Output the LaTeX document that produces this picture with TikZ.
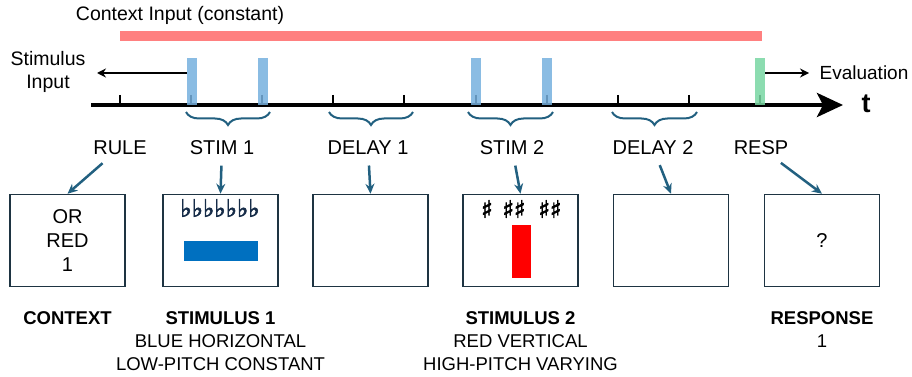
\documentclass[tikz,border=0pt]{standalone}
\usepackage{fontspec}
\setmainfont{Liberation Sans}
\newfontfamily\musicfont[FakeBold=2.5]{DejaVu Sans}
\usetikzlibrary{arrows.meta,positioning,decorations.pathreplacing}

\definecolor{ctxred}{RGB}{255,128,128}
\definecolor{stimblue}{RGB}{118,176,222}
\definecolor{evalgreen}{RGB}{120,214,162}
\definecolor{linkblue}{RGB}{34,96,128}
\definecolor{boxline}{RGB}{30,52,66}
\definecolor{flatnavy}{RGB}{22,44,72}
\definecolor{barblue}{RGB}{0,112,192}

\begin{document}
\begin{tikzpicture}[x=1pt,y=-1pt,semithick]
	\tikzstyle{phase}=[font=\fontsize{20}{24}\selectfont]
	\tikzstyle{caption}=[font=\fontsize{18.5}{23}\selectfont,align=center,inner sep=0pt]
	\tikzstyle{screen}=[draw=boxline,line width=1.5pt,minimum width=115pt,minimum height=92pt,inner sep=0pt,align=center,font=\fontsize{20}{24}\selectfont]
	\tikzstyle{pulse}=[fill opacity=0.85,minimum width=10pt,minimum height=47pt,inner sep=0pt]
	\tikzstyle{link}=[linkblue,line width=2.5pt,shorten <=7pt,-{Stealth[length=10pt,width=9pt]}]
	\tikzstyle{stage}=[linkblue,line width=2pt,decorate,decoration={brace,mirror,amplitude=13pt}]
	\tikzstyle{io}=[line width=2pt,-{Stealth[length=9pt,width=9pt]}]
	\tikzstyle{sharp}=[font=\musicfont\bfseries\fontsize{24}{26}\selectfont,inner sep=0pt]

	\useasboundingbox (0,0) rectangle (912,377);

	% context input over the whole trial
	\node[font=\fontsize{19.5}{22}\selectfont] (ctxin) at (180,15) {Context Input (constant)};
	\fill[ctxred] (120,31) rectangle (762,41);

	% time axis
	\coordinate (axisL) at (91,105);
	\coordinate (axisR) at (843,105);
	\draw[line width=4pt,-{Stealth[length=26pt,width=24pt,inset=6pt]}] (axisL) -- (axisR);
	\node[font=\fontsize{27}{30}\selectfont\bfseries] (tlabel) at (866,104) {t};
	\foreach \i in {0,...,9}
	  \draw[line width=2pt] (120+71.1*\i,95) -- (120+71.1*\i,105);

	% input pulses
	\node[pulse,fill=stimblue] (p1) at (192,81.5) {};
	\node[pulse,fill=stimblue] (p2) at (263,81.5) {};
	\node[pulse,fill=stimblue] (p3) at (476,81.5) {};
	\node[pulse,fill=stimblue] (p4) at (547,81.5) {};
	\node[pulse,fill=evalgreen] (p5) at (760,81.5) {};

	\node[font=\fontsize{19.5}{23}\selectfont,align=center] (stimin) at (48,72) {Stimulus\\Input};
	\coordinate (stimend) at (97,73);
	\draw[io] ([yshift=8.5pt]p1.west) -- (stimend);
	\node[font=\fontsize{19}{22}\selectfont,anchor=west] (evalout) at (816,73) {Evaluation};
	\coordinate (evalend) at (809,73);
	\draw[io] ([yshift=8.5pt]p5.east) -- (evalend);

	% trial stages
	\draw[stage] (186,112) -- (270,112);
	\draw[stage] (329,112) -- (413,112);
	\draw[stage] (468,112) -- (553,112);
	\draw[stage] (612,112) -- (697,112);

	\node[phase] (rule) at (120,148) {RULE};
	\node[phase] (stim1) at (222,148) {STIM 1};
	\node[phase] (delay1) at (368,148) {DELAY 1};
	\node[phase] (stim2) at (512,148) {STIM 2};
	\node[phase] (delay2) at (653,148) {DELAY 2};
	\node[phase] (resp) at (761,148) {RESP};

	% screens
	\node[screen] (ctxbox) at (67.5,240.5) {OR\\RED\\1};
	\node[screen] (s1box) at (220.5,240.5) {};
	\node[screen] (d1box) at (370.5,240.5) {};
	\node[screen] (s2box) at (520.5,240.5) {};
	\node[screen] (d2box) at (671,240.5) {};
	\node[screen] (respbox) at (822,240.5) {?};

	\node[text=flatnavy,font=\musicfont\fontsize{24}{26}\selectfont,inner sep=0pt] (flats) at (220,208) {♭♭♭♭♭♭♭};
	\fill[barblue] (184,241) rectangle (258,261);
	\node[sharp] (sharpA) at (487,209) {♯};
	\node[sharp] (sharpB) at (514,209) {♯♯};
	\node[sharp] (sharpC) at (550,209) {♯♯};
	\fill[red] (512,225) rectangle (531,278);

	\draw[link] (rule) -- (ctxbox.north);
	\draw[link] (stim1) -- (s1box.north);
	\draw[link] (delay1) -- (d1box.north);
	\draw[link] (stim2) -- (s2box.north);
	\draw[link] (delay2) -- (d2box.north);
	\draw[link] (resp) -- (respbox.north);

	% captions
	\node[caption,below=24pt of ctxbox] (ctxcap) {\textbf{CONTEXT}};
	\node[caption,below=24pt of s1box] (s1cap) {\textbf{STIMULUS 1}\\BLUE HORIZONTAL\\LOW-PITCH CONSTANT};
	\node[caption,below=24pt of s2box] (s2cap) {\textbf{STIMULUS 2}\\RED VERTICAL\\HIGH-PITCH VARYING};
	\node[caption,below=24pt of respbox] (respcap) {\textbf{RESPONSE}\\1};
\end{tikzpicture}
\end{document}
